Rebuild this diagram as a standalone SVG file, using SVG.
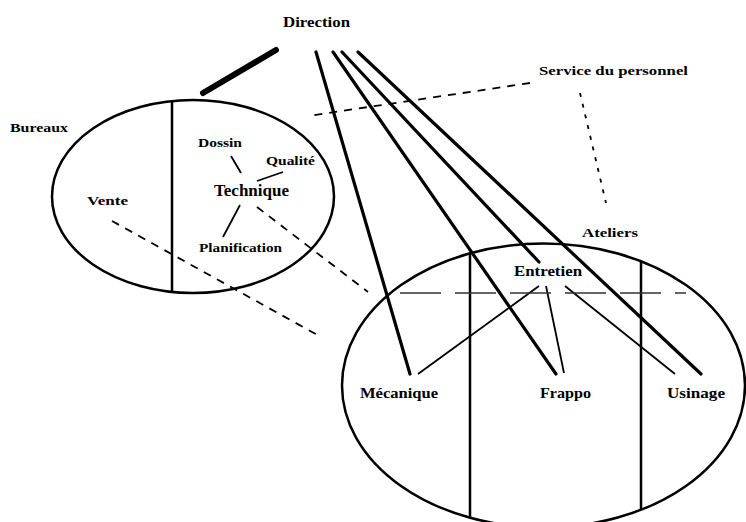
<svg xmlns="http://www.w3.org/2000/svg" width="746" height="522" viewBox="0 0 746 522">
<style>
text{font-family:"Liberation Serif","Times New Roman",serif;font-weight:bold;fill:#000}
.el{fill:none;stroke:#000;stroke-width:2.5}
.div{stroke:#000;stroke-width:2.5}
.thick{stroke:#000;stroke-width:3.2;stroke-linecap:round}
.thin{stroke:#000;stroke-width:1.8}
.dash{stroke:#000;stroke-width:1.8;stroke-dasharray:8 7;fill:none}
.dot{stroke:#000;stroke-width:1.8;stroke-dasharray:4 7;fill:none}
.hd{stroke:#333;stroke-width:1.4;stroke-dasharray:41 14;fill:none}
</style>
<rect width="746" height="522" fill="#fff"/>
<g id="bureaux">
<ellipse class="el" cx="193" cy="196.5" rx="141" ry="96.5"/>
<line class="div" x1="172" y1="101" x2="172" y2="292"/>
<text x="10" y="132" font-size="12" textLength="58" lengthAdjust="spacingAndGlyphs">Bureaux</text>
</g>
<g id="ateliers">
<ellipse class="el" cx="543.5" cy="385.5" rx="201.5" ry="142"/>
<line class="div" x1="470" y1="254" x2="470" y2="518"/>
<line class="div" x1="641" y1="261" x2="641" y2="510"/>
<text x="582" y="237" font-size="13" textLength="56" lengthAdjust="spacingAndGlyphs">Ateliers</text>
</g>
<g id="connectors">
<line stroke="#000" stroke-width="6" stroke-linecap="round" x1="203" y1="93" x2="276" y2="50"/>
<line class="thick" x1="316" y1="52" x2="410" y2="374"/>
<line class="thick" x1="333" y1="52" x2="556" y2="374"/>
<line class="thick" x1="342" y1="52" x2="539" y2="262"/>
<line class="thick" x1="358" y1="52" x2="701" y2="374"/>
<line class="thin" x1="539" y1="286" x2="418" y2="374"/>
<line class="thin" x1="546" y1="286" x2="564" y2="373"/>
<line class="thin" x1="565" y1="286" x2="675" y2="374"/>
<line class="thin" x1="231" y1="156" x2="241" y2="173"/>
<line class="thin" x1="283" y1="172" x2="257" y2="181"/>
<line class="thin" x1="240" y1="205" x2="223" y2="237"/>
<line class="dash" x1="530" y1="83" x2="308" y2="116"/>
<line class="dot" x1="580" y1="93" x2="606" y2="203"/>
<line class="dash" x1="257" y1="207" x2="368" y2="292"/>
<line class="dash" x1="112" y1="221" x2="321" y2="337"/>
<line class="hd" x1="400" y1="293" x2="686" y2="293"/>
</g>
<g id="direction"><text x="283" y="27" font-size="15" textLength="67" lengthAdjust="spacingAndGlyphs">Direction</text></g>
<g id="service"><text x="539" y="75" font-size="13" textLength="149" lengthAdjust="spacingAndGlyphs">Service du personnel</text></g>
<g id="vente"><text x="87" y="205" font-size="13" textLength="41" lengthAdjust="spacingAndGlyphs">Vente</text></g>
<g id="dossin"><text x="198" y="147" font-size="12" textLength="44" lengthAdjust="spacingAndGlyphs">Dossin</text></g>
<g id="qualite"><text x="266" y="165" font-size="13" textLength="49" lengthAdjust="spacingAndGlyphs">Qualité</text></g>
<g id="technique"><text x="214" y="196" font-size="16" textLength="75" lengthAdjust="spacingAndGlyphs">Technique</text></g>
<g id="planification"><text x="199" y="252" font-size="12" textLength="83" lengthAdjust="spacingAndGlyphs">Planification</text></g>
<g id="entretien"><text x="514" y="276" font-size="14" textLength="68" lengthAdjust="spacingAndGlyphs">Entretien</text></g>
<g id="mecanique"><text x="360" y="398" font-size="14" textLength="78" lengthAdjust="spacingAndGlyphs">Mécanique</text></g>
<g id="frappo"><text x="540" y="398" font-size="14" textLength="51" lengthAdjust="spacingAndGlyphs">Frappo</text></g>
<g id="usinage"><text x="667" y="398" font-size="14" textLength="58" lengthAdjust="spacingAndGlyphs">Usinage</text></g>
</svg>
